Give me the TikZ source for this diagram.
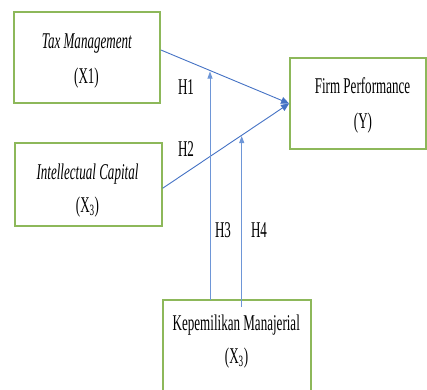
\documentclass[tikz,border=0pt]{standalone}
\usepackage{fontspec}
\setmainfont{Liberation Serif}[FakeStretch=0.58]
\usetikzlibrary{arrows.meta}
\definecolor{boxgreen}{RGB}{141,184,90}
\definecolor{lineblue}{RGB}{68,114,196}
\definecolor{lightblue}{RGB}{110,150,215}
\tikzset{
  box/.style={draw=boxgreen, line width=1.8pt, fill=white, inner sep=0pt},
  lbl/.style={anchor=base, inner sep=0pt, font=\fontsize{22.5}{27}\selectfont},
  path/.style={draw=lineblue, line width=0.9pt, -{Triangle[length=8pt,width=7pt]}},
  modpath/.style={draw=lightblue, line width=0.8pt, -{Triangle[length=7pt,width=5pt]}}
}
\begin{document}
\begin{tikzpicture}[x=1pt,y=-1pt]
\useasboundingbox (0,0) rectangle (427,389);
\begin{scope}
\clip (0,0) rectangle (427,389);
% boxes
\node[box, minimum width=146pt, minimum height=91pt] (tax) at (87,57.5) {};
\node[box, minimum width=146.7pt, minimum height=83pt] (ic) at (88.3,184.5) {};
\node[box, minimum width=136pt, minimum height=91pt] (firm) at (358,103.5) {};
\node[box, minimum width=148pt, minimum height=100pt] (kep) at (237,350) {};
% texts
\node[lbl] (taxT) at (87,48.3) {\textit{Tax Management}};
\node[lbl] (taxX) at (86.5,83.3) {(X1)};
\node[lbl] (icT) at (87.5,179.3) {\textit{Intellectual Capital}};
\node[lbl] (icX) at (87.5,212.7) {(X\textsubscript{3})};
\node[lbl] (firmT) at (362.5,93) {Firm Performance};
\node[lbl] (firmY) at (363,128.3) {(Y)};
\node[lbl] (kepT) at (236.3,330.7) {Kepemilikan Manajerial};
\node[lbl] (kepX) at (236.5,363.3) {(X\textsubscript{3})};
% connector points
\coordinate (h3end) at (210,71.5);
\coordinate (h4end) at (241.7,136);
\coordinate (h3start) at (210,300);
\coordinate (h4start) at (241.7,306.5);
% connectors
\draw[path] ([yshift=7.5pt]tax.east) -- (firm.west);
\draw[path] ([yshift=-3.8pt]ic.east) -- (firm.west);
\draw[modpath] (h3start) -- (h3end);
\draw[modpath] (h4start) -- (h4end);
% hypothesis labels
\node[lbl] (h1) at (186,94.5) {H1};
\node[lbl] (h2) at (186,156.5) {H2};
\node[lbl] (h3) at (223,237) {H3};
\node[lbl] (h4) at (259,237) {H4};
\end{scope}
\end{tikzpicture}
\end{document}
